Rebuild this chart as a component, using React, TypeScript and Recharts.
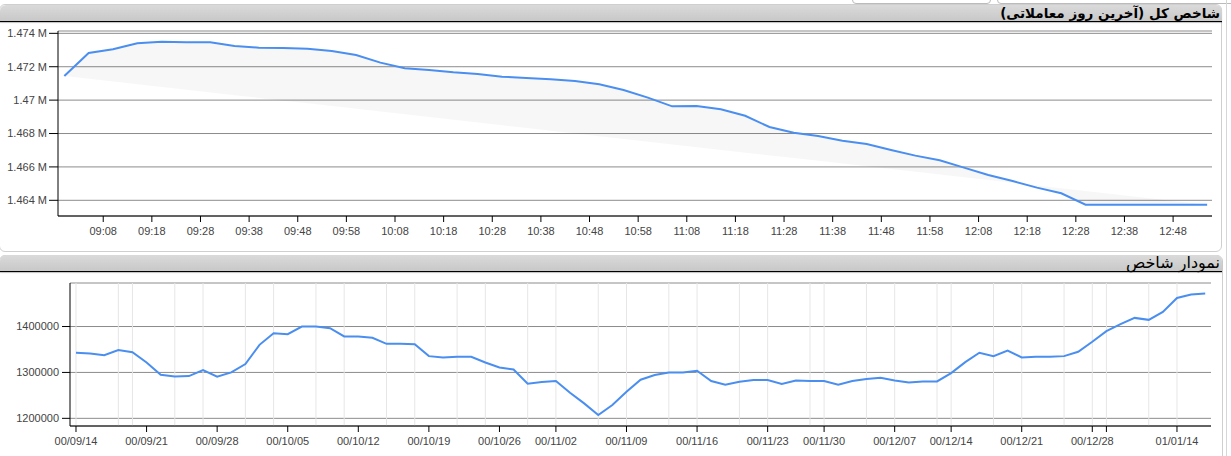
import React from 'react';
import { ComposedChart, Line, Area, XAxis, YAxis, CartesianGrid, ReferenceLine } from 'recharts';

// ---------- Top chart: last trading day (intraday, every 5 minutes) ----------
const intradayTimes = [
  '09:00', '09:05', '09:10', '09:15', '09:20', '09:25', '09:30', '09:35', '09:40', '09:45',
  '09:50', '09:55', '10:00', '10:05', '10:10', '10:15', '10:20', '10:25', '10:30', '10:35',
  '10:40', '10:45', '10:50', '10:55', '11:00', '11:05', '11:10', '11:15', '11:20', '11:25',
  '11:30', '11:35', '11:40', '11:45', '11:50', '11:55', '12:00', '12:05', '12:10', '12:15',
  '12:20', '12:25', '12:30', '12:35', '12:40', '12:45', '12:50', '12:55',
];
const intradayValues = [
  1471445, 1472822, 1473042, 1473401, 1473500, 1473461, 1473461, 1473242, 1473142, 1473122,
  1473082, 1472942, 1472703, 1472244, 1471904, 1471804, 1471665, 1471565, 1471405, 1471325,
  1471246, 1471146, 1470946, 1470607, 1470148, 1469629, 1469649, 1469449, 1469060, 1468391,
  1468052, 1467852, 1467573, 1467373, 1467014, 1466675, 1466395, 1465956, 1465517, 1465157,
  1464758, 1464419, 1463740, 1463740, 1463740, 1463740, 1463740, 1463740,
];
const intradayTickLabels = [
  '09:08', '09:18', '09:28', '09:38', '09:48', '09:58', '10:08', '10:18', '10:28', '10:38',
  '10:48', '10:58', '11:08', '11:18', '11:28', '11:38', '11:48', '11:58', '12:08', '12:18',
  '12:28', '12:38', '12:48',
];
const intradayYTicks = [1464000, 1466000, 1468000, 1470000, 1472000, 1474000];
const intradayYDomain = [1463060, 1474140];
const intradayXDomain = [538.7, 776.0];

// ---------- Bottom chart: daily index ----------
const dailyValues = [
  1342760, 1341300, 1337700, 1348600, 1344200, 1321700, 1294900, 1291300, 1292000, 1305100,
  1290600, 1300000, 1318100, 1360100, 1385500, 1383300, 1400000, 1400000, 1396400, 1378300,
  1378300, 1375400, 1362300, 1362300, 1361600, 1335500, 1332600, 1334100, 1334100, 1321700,
  1310900, 1306500, 1275400, 1279000, 1281200, 1255800, 1232600, 1207300, 1229000, 1258000,
  1284100, 1294200, 1300000, 1300000, 1303600, 1281200, 1273200, 1279700, 1283300, 1283300,
  1274600, 1282600, 1281200, 1281200, 1273200, 1281200, 1285500, 1288400, 1282600, 1278300,
  1280400, 1280400, 1298600, 1322500, 1342800, 1335500, 1347800, 1332600, 1334100, 1334100,
  1335500, 1344900, 1366700, 1389900, 1405100, 1418800, 1414500, 1431900, 1462300, 1469600,
  1471700,
];
const dailyTickIndex = [0, 5, 10, 15, 20, 25, 30, 34, 39, 44, 49, 53, 58, 62, 67, 72, 73, 78];
const dailyTickLabels = [
  '00/09/14', '00/09/21', '00/09/28', '00/10/05', '00/10/12', '00/10/19', '00/10/26', '00/11/02',
  '00/11/09', '00/11/16', '00/11/23', '00/11/30', '00/12/07', '00/12/14', '00/12/21', '00/12/28',
  '', '01/01/14',
];
const dailyGridIndex = [
  0, 3, 4, 7, 9, 12, 14, 17, 19, 22, 24, 27, 29, 32, 34, 37, 39, 42, 44, 47, 49, 52, 53,
  56, 58, 61, 62, 65, 67, 70, 72, 73, 76, 78,
];
const dailyYTicks = [1200000, 1300000, 1400000];
const dailyYDomain = [1183300, 1494800];
const dailyXDomain = [-0.425, 80.41];

// ---------- derived tables ----------
const toMinutes = (s: string) => {
  const [h, m] = s.split(':').map(Number);
  return h * 60 + m;
};
const pad2 = (n: number) => (n < 10 ? '0' + n : '' + n);
const fromMinutes = (v: number) => pad2(Math.floor(v / 60)) + ':' + pad2(Math.round(v % 60));

const firstM = toMinutes(intradayTimes[0]);
const lastM = toMinutes(intradayTimes[intradayTimes.length - 1]);
const firstV = intradayValues[0];
const lastV = intradayValues[intradayValues.length - 1];
const intradayData = intradayTimes.map((t, i) => {
  const m = toMinutes(t);
  const chord = firstV + ((lastV - firstV) * (m - firstM)) / (lastM - firstM);
  return { m, value: intradayValues[i], band: [chord, intradayValues[i]] };
});
const intradayTicks = intradayTickLabels.map(toMinutes);

const dailyData = dailyValues.map((v, i) => ({ i, value: v }));
const dailyLabel = (v: number) => {
  const k = dailyTickIndex.indexOf(v);
  return k >= 0 ? dailyTickLabels[k] : '';
};

const FONT = '"Liberation Sans", Arial, sans-serif';
const TITLE_FONT = '"DejaVu Sans", Tahoma, sans-serif';
const tickStyle = { fill: '#444', fontSize: 11, fontFamily: FONT };
const BLUE = '#4a8ef0';
const GRID = '#8c8c8c';

const headerStyle = (top: number): React.CSSProperties => ({
  position: 'absolute',
  left: 0,
  top,
  width: 1222,
  height: 16,
  background: 'linear-gradient(#dadada, #c8c8c8)',
  borderTopLeftRadius: 6,
  borderTopRightRadius: 6,
  borderBottom: '1.5px solid #000',
  boxShadow: '0 1px 1px rgba(0,0,0,0.25)',
  boxSizing: 'content-box',
});

export default function App() {
  return (
    <div
      style={{
        position: 'absolute',
        left: 0,
        top: 0,
        width: 1231,
        height: 456,
        background: '#fff',
        overflow: 'hidden',
      }}
    >
      {/* tabs at the very top */}
      <div style={{ position: 'absolute', left: 852, top: -10, width: 137, height: 12, border: '1px solid #bbb', borderRadius: 4, background: '#fff' }} />
      <div style={{ position: 'absolute', left: 997, top: -10, width: 240, height: 12, border: '1px solid #bbb', borderRadius: 4, background: '#fff' }} />
      {/* outer right line */}
      <div style={{ position: 'absolute', left: 1226, top: 0, width: 1, height: 456, background: '#d6d6d6' }} />

      {/* top panel */}
      <div style={{ position: 'absolute', left: -1, top: 4, width: 1221, height: 246, border: '1px solid #cfcfcf', borderRadius: 6, background: '#fff' }} />
      <div style={headerStyle(5)}>
        <div
          dir="rtl"
          style={{
            position: 'absolute',
            right: 2,
            top: 0,
            height: 16,
            lineHeight: '16px',
            fontFamily: TITLE_FONT,
            fontWeight: 'bold',
            fontSize: 13.5,
            color: '#000',
            whiteSpace: 'nowrap',
          }}
        >
          شاخص کل (آخرین روز معاملاتی)
        </div>
      </div>
      <div style={{ position: 'absolute', left: 0, top: 22 }}>
        <ComposedChart width={1222} height={228} data={intradayData} margin={{ top: 9, right: 10, bottom: 4, left: 0 }}>
          <CartesianGrid vertical={false} stroke={GRID} strokeWidth={1} />
          <XAxis
            dataKey="m"
            type="number"
            domain={intradayXDomain}
            ticks={intradayTicks}
            interval={0}
            tickFormatter={fromMinutes}
            tick={tickStyle}
            tickSize={6}
            tickMargin={5}
            height={30}
            axisLine={{ stroke: '#000' }}
            tickLine={{ stroke: '#000' }}
            allowDataOverflow
          />
          <YAxis
            type="number"
            domain={intradayYDomain}
            ticks={intradayYTicks}
            interval={0}
            tickFormatter={(v: number) => v / 1000000 + ' M'}
            tick={tickStyle}
            tickSize={9}
            tickMargin={2}
            width={58}
            axisLine={{ stroke: '#000' }}
            tickLine={{ stroke: '#000' }}
            allowDataOverflow
          />
          <Area dataKey="band" type="linear" stroke="none" fill="#000" fillOpacity={0.03} isAnimationActive={false} />
          <Line dataKey="value" type="linear" stroke={BLUE} strokeWidth={2} dot={false} isAnimationActive={false} />
        </ComposedChart>
      </div>

      {/* bottom panel */}
      <div style={{ position: 'absolute', left: -1, top: 255, width: 1222, height: 220, border: '1px solid #cfcfcf', borderRadius: 6, background: '#fff' }} />
      <div style={headerStyle(255)}>
        <div
          dir="rtl"
          style={{
            position: 'absolute',
            right: 2,
            top: 0,
            height: 16,
            lineHeight: '16px',
            fontFamily: TITLE_FONT,
            fontSize: 16,
            color: '#000',
            whiteSpace: 'nowrap',
          }}
        >
          نمودار شاخص
        </div>
      </div>
      <div style={{ position: 'absolute', left: 0, top: 273 }}>
        <ComposedChart width={1222} height={183} data={dailyData} margin={{ top: 10, right: 11, bottom: 4, left: 0 }}>
          {dailyGridIndex.map((g) => (
            <ReferenceLine key={'g' + g} x={g} stroke="#e6e6e6" strokeWidth={1} ifOverflow="extendDomain" />
          ))}
          <CartesianGrid vertical={false} stroke={GRID} strokeWidth={1} />
          <XAxis
            dataKey="i"
            type="number"
            domain={dailyXDomain}
            ticks={dailyTickIndex}
            interval={0}
            tickFormatter={dailyLabel}
            tick={tickStyle}
            tickSize={6}
            tickMargin={5}
            height={26}
            axisLine={{ stroke: '#000' }}
            tickLine={{ stroke: '#000' }}
            allowDataOverflow
          />
          <YAxis
            type="number"
            domain={dailyYDomain}
            ticks={dailyYTicks}
            interval={0}
            tick={tickStyle}
            tickSize={8}
            tickMargin={3}
            width={70}
            axisLine={{ stroke: '#000' }}
            tickLine={{ stroke: '#000' }}
            allowDataOverflow
          />
          <Line dataKey="value" type="linear" stroke={BLUE} strokeWidth={2} dot={false} isAnimationActive={false} />
        </ComposedChart>
      </div>
    </div>
  );
}
